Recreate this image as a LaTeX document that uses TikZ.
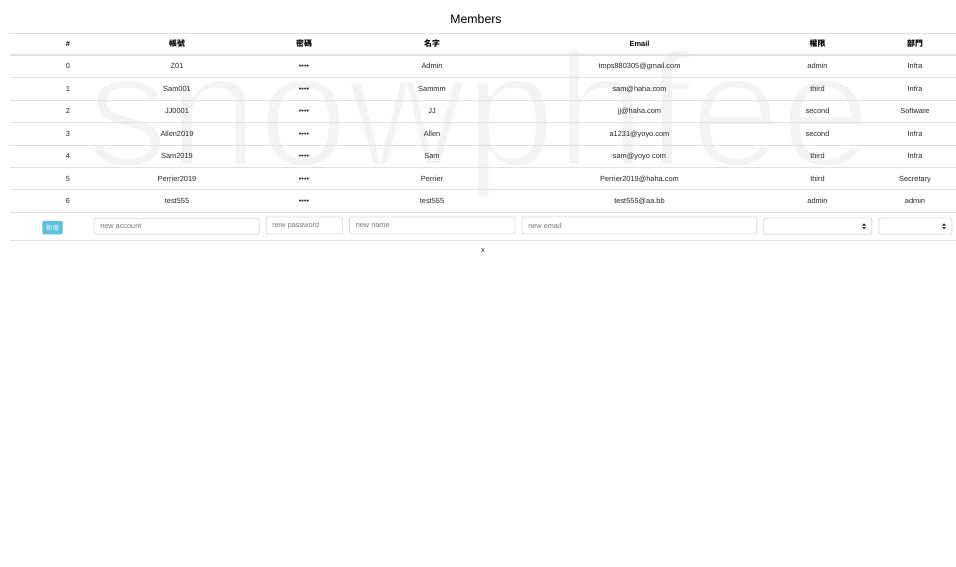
\documentclass[tikz,border=0pt]{standalone}
\usepackage{fontspec}
\setmainfont{Liberation Sans}
\newfontfamily\cjk{Noto Sans CJK TC}
\definecolor{rule}{HTML}{DEE2E6}
\definecolor{txt}{HTML}{262626}
\definecolor{wm}{HTML}{F3F3F3}
\definecolor{btnc}{HTML}{5BC0DE}
\definecolor{bord}{HTML}{D4D8DC}
\definecolor{phc}{HTML}{72777D}
\begin{document}
\begin{tikzpicture}[x=0.75pt,y=-0.75pt,
  cell/.style={font=\fontsize{5.55}{6.5}\selectfont,text=txt,inner sep=0pt,anchor=base},
  head/.style={cell,font=\fontsize{5.55}{6.5}\selectfont\bfseries,text=black},
  cjkhead/.style={cell,font=\cjk\fontsize{5.9}{6.5}\selectfont\bfseries,text=black},
  hline/.style={draw=rule,line width=0.75pt},
  box/.style={draw=bord,line width=0.6pt,rounded corners=1.5pt,fill=white},
  ph/.style={font=\fontsize{5.5}{6.5}\selectfont,text=phc,inner sep=0pt,anchor=west},
  btn/.style={fill=btnc,text=white,font=\cjk\fontsize{4.8}{5}\selectfont,inner sep=0pt,minimum width=15.3pt,minimum height=10pt,rounded corners=0.8pt},
  arr/.style={fill=txt,draw=none}]
\useasboundingbox (0,0) rectangle (956,567);
\fill[white] (0,0) rectangle (956,567);
% watermark
\node[inner sep=0pt,anchor=base west,text=wm,font=\fontsize{121.5}{121.5}\selectfont] (wmark) at (87,166) {\special{pdf:literal direct 1 1 1 RG 3.2 w 2 Tr}snowphfee\special{pdf:literal direct 0 Tr}};
% title
\node[inner sep=0pt,font=\fontsize{9.2}{11}\selectfont,text=black] (title) at (476,19) {Members};
% rules
\draw[hline] (10,33.3) -- (956,33.3);
\draw[hline,line width=1.4pt] (10,54.8) -- (956,54.8);
\foreach \yy in {77.3,100,122.5,145,167.3,189.8,212.3,240}
  \draw[hline] (10,\yy) -- (956,\yy);
% header
\node[head] (h0) at (68,46.8) {\#};
\node[cjkhead] (h1) at (177,46.8) {帳號};
\node[cjkhead] (h2) at (304,46.8) {密碼};
\node[cjkhead] (h3) at (432,46.8) {名字};
\node[head] (h4) at (639.5,46.8) {Email};
\node[cjkhead] (h5) at (817.5,46.8) {權限};
\node[cjkhead] (h6) at (915,46.8) {部門};
% rows
\foreach \i/\yy/\a/\b/\c/\d/\e in {
  0/69/Z01/Admin/tmps880305@gmail.com/admin/Infra,
  1/91.4/Sam001/Sammm/sam@haha.com/third/Infra,
  2/113.9/JJ0001/JJ/jj@haha.com/second/Software,
  3/136.2/Allen2019/Allen/a1231@yoyo.com/second/Infra,
  4/158.7/Sam2019/Sam/sam@yoyo.com/third/Infra,
  5/181.1/Perrier2019/Perrier/Perrier2019@haha.com/third/Secretary,
  6/203.6/test555/test555/test555@aa.bb/admin/admin}{
  \node[cell] (r\i c0) at (68,\yy) {\i};
  \node[cell] (r\i c1) at (177,\yy) {\a};
  \node[cell] (r\i c2) at (304,\yy) {••••};
  \node[cell] (r\i c3) at (432,\yy) {\b};
  \node[cell] (r\i c4) at (639.5,\yy) {\c};
  \node[cell] (r\i c5) at (817.5,\yy) {\d};
  \node[cell] (r\i c6) at (915,\yy) {\e};
}
% input row
\node[btn] (add) at (52.5,227.6) {新增};
\draw[box] (94,218.3) rectangle (259.3,234.3);
\node[ph] (acc) at (100,226.5) {new account};
\draw[box] (266.3,217) rectangle (342.7,234);
\node[ph] (pwd) at (272,225.5) {new password};
\draw[box] (349.5,217) rectangle (515,234);
\node[ph] (nam) at (355.5,225.5) {new name};
\draw[box] (522,217) rectangle (756.7,234);
\node[ph] (eml) at (528,225.5) {new email};
\draw[box] (763.7,218) rectangle (871.7,234.3);
\draw[box] (879,218) rectangle (952,234.3);
\foreach \xx in {864,944}{
  \fill[arr] (\xx-1.8,225.5) -- (\xx+1.8,225.5) -- (\xx,223.3) -- cycle;
  \fill[arr] (\xx-1.8,227) -- (\xx+1.8,227) -- (\xx,229.2) -- cycle;
}
\node[cell,text=txt] (xmark) at (483,252.5) {x};
\end{tikzpicture}
\end{document}
